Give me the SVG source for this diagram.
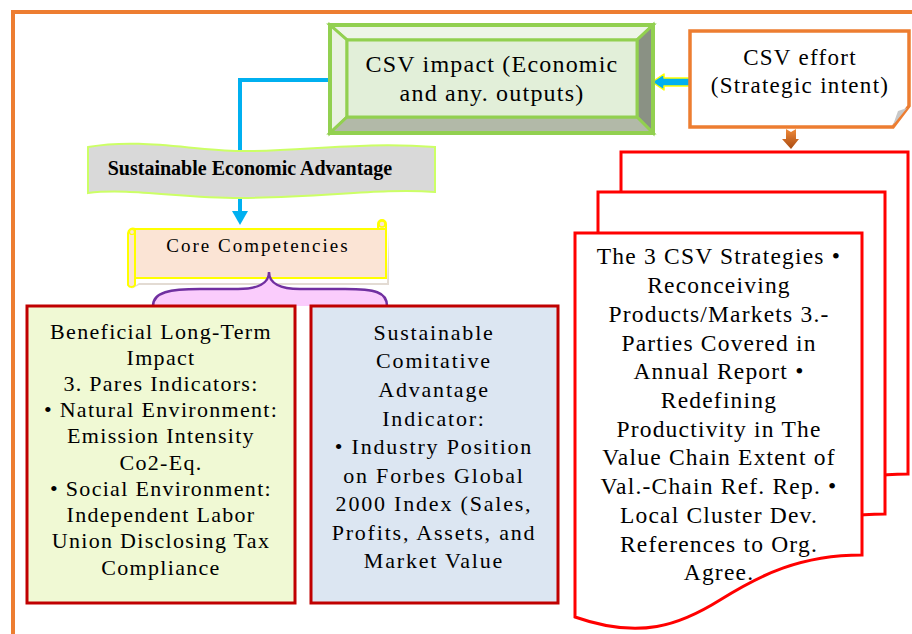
<svg xmlns="http://www.w3.org/2000/svg" width="912" height="634" viewBox="0 0 912 634">
<style>
  .t { font-family: "Liberation Serif", "Times New Roman", serif; fill: #000; text-anchor: middle; }
  .big { font-size: 24px; letter-spacing: 1.2px; }
  .box { font-size: 22px; letter-spacing: 1.3px; }
  .doc { font-size: 23.5px; letter-spacing: 1.2px; }
  .bevel { stroke: #92D050; stroke-width: 3; stroke-linejoin: miter; }
  .ind { stroke: #C00000; stroke-width: 3; }
  .paper { fill: #fff; stroke: #FF0000; stroke-width: 3; }
  .conn { fill: none; stroke: #00B0F0; stroke-width: 4; }
</style>
<rect width="912" height="634" fill="#fff"/>
<rect x="13" y="12" width="930" height="650" fill="none" stroke="#ED7D31" stroke-width="4"/>

<g id="connectors">
  <path class="conn" d="M331,80 H240 V150"/>
  <path class="conn" d="M240,196 V213"/>
  <polygon points="232,211 248,211 240,225" fill="#00B0F0"/>
  <polygon points="652,82 664,74 664,78 702,78 695,82 702,86 664,86 664,90" fill="#00B0F0" stroke="#FFFF00" stroke-width="1.5" stroke-linejoin="round"/>
  <defs>
    <linearGradient id="og" x1="0" y1="0" x2="0" y2="1">
      <stop offset="0" stop-color="#F08A3A"/>
      <stop offset="1" stop-color="#A84A10"/>
    </linearGradient>
  </defs>
  <polygon points="786,129 791,132 796,129 796,139 799,139 791,149 782,139 786,139" fill="url(#og)"/>
</g>

<g id="csv-impact">
  <rect x="330" y="25" width="323" height="108" fill="#E2EFD9"/>
  <polygon class="bevel" points="330,25 653,25 637,40 347,40" fill="#EEF5E8"/>
  <polygon class="bevel" points="330,25 347,40 347,117 330,133" fill="#EAF2E2"/>
  <polygon class="bevel" points="653,25 653,133 637,117 637,40" fill="#8A9184"/>
  <polygon class="bevel" points="330,133 653,133 637,117 347,117" fill="#B2B9A8"/>
  <rect class="bevel" x="347" y="40" width="290" height="77" fill="#E2EFD9"/>
  <rect x="330" y="25" width="323" height="108" fill="none" stroke="#92D050" stroke-width="4"/>
  <text class="t big" x="492" y="72">CSV impact (Economic</text>
  <text class="t big" x="492" y="101">and any. outputs)</text>
</g>

<g id="csv-effort">
  <path d="M690,31 H909 V106 L893,127 H690 Z" fill="#fff" stroke="#ED7D31" stroke-width="3.5"/>
  <polygon points="893,125 898,111 907,108" fill="#C8C8C8"/>
  <text class="t" x="800" y="65" style="font-size:23px;letter-spacing:1.3px">CSV effort</text>
  <text class="t" x="800" y="93" style="font-size:23px;letter-spacing:1.3px">(Strategic intent)</text>
</g>

<g id="sustainable-economic-advantage">
  <path d="M88,147 C140,138 190,150 240,151 C300,152 360,141 435,147 V192 C380,188 320,198 240,198 C180,198 130,188 88,193 Z" fill="#D9D9D9" stroke="#CCFF66" stroke-width="2"/>
  <text class="t" x="250" y="175" style="font-size:20px;font-weight:bold">Sustainable Economic Advantage</text>
</g>

<g id="core-competencies">
  <path d="M131,289 L 139,283 H 387 L 389,231 V 285 H 139 Z" fill="#C8B8A8" opacity="0.5"/>
  <path d="M135,229 H378 V224 A4,4 0 0 1 386,224 V278 H135 V285 A4,4 0 0 1 128,285 V233 A5,5 0 0 1 135,229 Z" fill="#FBE4D5" stroke="#FFFF00" stroke-width="2"/>
  <path d="M378,229 H386" fill="none" stroke="#FFFF00" stroke-width="2"/>
  <circle cx="382" cy="224" r="3" fill="#FBE4D5" stroke="#FFFF00" stroke-width="1.5"/>
  <path d="M135,229 V278" fill="none" stroke="#FFFF00" stroke-width="2"/>
  <circle cx="132" cy="232" r="2.5" fill="#FBE4D5" stroke="#FFFF00" stroke-width="1.2"/>
  <text class="t" x="258" y="252" style="font-size:19px;letter-spacing:2px">Core Competencies</text>
</g>

<g id="brace">
  <path d="M153,306 C153,292 170,289 200,289 L238,289 C258,289 269,283 269,272 C269,283 280,289 300,289 L345,289 C375,289 387,292 387,306 Z" fill="#FACCFC"/>
  <path d="M153,306 C153,292 170,289 200,289 L238,289 C258,289 269,283 269,272 C269,283 280,289 300,289 L345,289 C375,289 387,292 387,306" fill="none" stroke="#7030A0" stroke-width="2.5"/>
</g>

<g id="beneficial-impact">
  <rect class="ind" x="27" y="306" width="268" height="297" fill="#F0F9D4"/>
  <text class="t box" x="161" y="339">Beneficial Long-Term</text>
  <text class="t box" x="161" y="365">Impact</text>
  <text class="t box" x="161" y="391">3. Pares Indicators:</text>
  <text class="t box" x="161" y="417">• Natural Environment:</text>
  <text class="t box" x="161" y="443">Emission Intensity</text>
  <text class="t box" x="161" y="470">Co2-Eq.</text>
  <text class="t box" x="161" y="496">• Social Environment:</text>
  <text class="t box" x="161" y="522">Independent Labor</text>
  <text class="t box" x="161" y="548">Union Disclosing Tax</text>
  <text class="t box" x="161" y="575">Compliance</text>
</g>

<g id="competitive-advantage">
  <rect class="ind" x="311" y="306" width="247" height="297" fill="#DCE6F2"/>
  <text class="t box" x="434" y="340" style="letter-spacing:1.8px">Sustainable</text>
  <text class="t box" x="434" y="368" style="letter-spacing:1.8px">Comitative</text>
  <text class="t box" x="434" y="397" style="letter-spacing:1.8px">Advantage</text>
  <text class="t box" x="434" y="426" style="letter-spacing:1.8px">Indicator:</text>
  <text class="t box" x="434" y="454" style="letter-spacing:1.8px">• Industry Position</text>
  <text class="t box" x="434" y="483" style="letter-spacing:1.8px">on Forbes Global</text>
  <text class="t box" x="434" y="511" style="letter-spacing:1.8px">2000 Index (Sales,</text>
  <text class="t box" x="434" y="540" style="letter-spacing:1.8px">Profits, Assets, and</text>
  <text class="t box" x="434" y="568" style="letter-spacing:1.8px">Market Value</text>
</g>

<g id="csv-strategies">
  <path class="paper" transform="translate(46,-81)" d="M575,233 H862 V555 C800,555 760,575 720,600 C680,625 640,640 575,617 Z"/>
  <path class="paper" transform="translate(23,-41)" d="M575,233 H862 V555 C800,555 760,575 720,600 C680,625 640,640 575,617 Z"/>
  <path class="paper" d="M575,233 H862 V555 C800,555 760,575 720,600 C680,625 640,640 575,617 Z"/>
  <text class="t doc" x="719" y="264">The 3 CSV Strategies •</text>
  <text class="t doc" x="719" y="293">Reconceiving</text>
  <text class="t doc" x="719" y="322">Products/Markets 3.-</text>
  <text class="t doc" x="719" y="351">Parties Covered in</text>
  <text class="t doc" x="719" y="379">Annual Report •</text>
  <text class="t doc" x="719" y="408">Redefining</text>
  <text class="t doc" x="719" y="437">Productivity in The</text>
  <text class="t doc" x="719" y="465">Value Chain Extent of</text>
  <text class="t doc" x="719" y="494">Val.-Chain Ref. Rep. •</text>
  <text class="t doc" x="719" y="523">Local Cluster Dev.</text>
  <text class="t doc" x="719" y="552">References to Org.</text>
  <text class="t doc" x="719" y="580">Agree.</text>
</g>
</svg>
